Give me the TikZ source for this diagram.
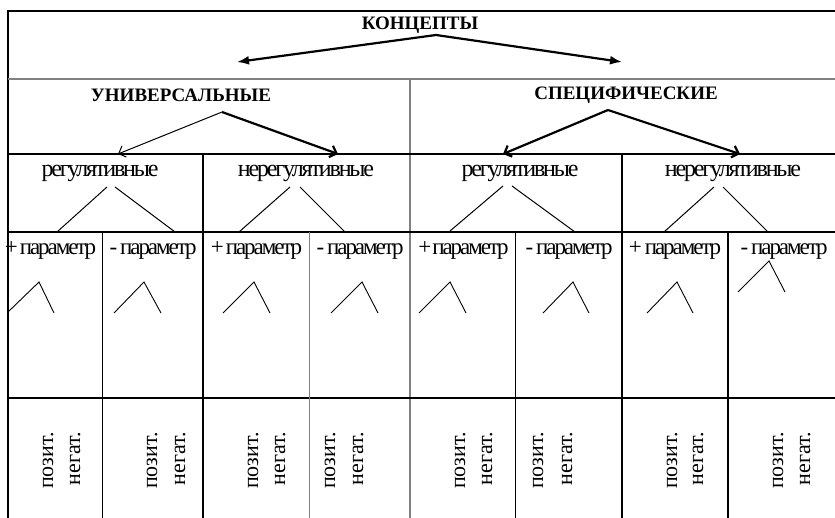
\documentclass[tikz,border=0pt]{standalone}
\usepackage{fontspec}
\setmainfont{Liberation Serif}
\newfontfamily\rowfont[LetterSpace=-9]{Liberation Serif}
\usetikzlibrary{arrows.meta}
\begin{document}
\begin{tikzpicture}[x=1pt,y=-1pt,
  thickline/.style={line width=2.5pt},
  greyline/.style={line width=1.3pt, draw=gray},
  thinline/.style={line width=0.9pt},
  head/.style={font=\bfseries\fontsize{19}{21}\selectfont, inner sep=0pt},
  cell/.style={font=\rowfont\fontsize{24}{26}\selectfont, inner sep=0pt, anchor=base},
  param/.style={font=\rowfont\fontsize{23}{25}\selectfont, inner sep=0pt, anchor=base},
  vert/.style={font=\fontsize{22}{24}\selectfont, inner sep=0pt, rotate=90, anchor=east},
  bigarrow/.style={line width=2.2pt, -{Latex[length=12pt,width=9pt]}},
  openarrow/.style={line width=1pt, -{Straight Barb[length=6pt,width=12pt]}},
  openthick/.style={line width=2.2pt, -{Straight Barb[length=6pt,width=12pt]}},
  branch/.style={line width=1pt},
  wedge/.style={line width=0.9pt}]
\useasboundingbox (0,0) rectangle (835,518);
% grid
\draw[thickline] (8,518) -- (8,11) -- (835,11);
\draw[greyline] (8,79) -- (835,79);
\draw[greyline] (410,79) -- (410,518);
\draw[thickline] (8,154) -- (835,154);
\draw[thickline] (8,232) -- (835,232);
\draw[thickline] (8,398) -- (835,398);
\draw[thickline] (203,154) -- (203,518);
\draw[thickline] (622,154) -- (622,518);
\draw[thickline] (728,232) -- (728,518);
\draw[thinline] (102,232) -- (102,518);
\draw[thinline] (515,232) -- (515,518);
\draw[greyline, line width=1pt] (309,232) -- (309,518);
% title
\node[head] (konc) at (420,25) {КОНЦЕПТЫ};
\coordinate (ks) at (436,35);
\coordinate (kl) at (237,62);
\coordinate (kr) at (622,62);
\draw[bigarrow] (ks) -- (kl);
\draw[bigarrow] (ks) -- (kr);
% second level
\node[head] (univ) at (181,95) {УНИВЕРСАЛЬНЫЕ};
\node[head] (spec) at (626,95) {СПЕЦИФИЧЕСКИЕ};
\coordinate (ua) at (222,112);
\coordinate (ul) at (118,154);
\coordinate (ur) at (338,154);
\draw[openarrow] (ua) -- (ul);
\draw[openthick] (ua) -- (ur);
\coordinate (sa) at (608,110);
\coordinate (sl) at (503,154);
\coordinate (sr) at (740,154);
\draw[openthick] (sa) -- (sl);
\draw[openthick] (sa) -- (sr);
% third level
\node[cell] (r1) at (100,177) {регулятивные};
\node[cell] (n1) at (306,177) {нерегулятивные};
\node[cell] (r2) at (520,177) {регулятивные};
\node[cell] (n2) at (733,177) {нерегулятивные};
\coordinate (r1a) at (107,187); \coordinate (r1b) at (115,187);
\coordinate (n1a) at (290,187); \coordinate (n1b) at (300,187);
\coordinate (r2a) at (503,186); \coordinate (r2b) at (512,186);
\coordinate (n2a) at (714,187); \coordinate (n2b) at (723,187);
\coordinate (r1l) at (57,232); \coordinate (r1r) at (175,232);
\coordinate (n1l) at (239,232); \coordinate (n1r) at (345,232);
\coordinate (r2l) at (450,231); \coordinate (r2r) at (575,232);
\coordinate (n2l) at (664,232); \coordinate (n2r) at (768,232);
\draw[branch] (r1a) -- (r1l); \draw[branch] (r1b) -- (r1r);
\draw[branch] (n1a) -- (n1l); \draw[branch] (n1b) -- (n1r);
\draw[branch] (r2a) -- (r2l); \draw[branch] (r2b) -- (r2r);
\draw[branch] (n2a) -- (n2l); \draw[branch] (n2b) -- (n2r);
% fourth level
\node[param] (p1) at (50.5,255) {+\hspace{2pt}параметр};
\node[param] (m1) at (153,255) {-\hspace{3pt}параметр};
\node[param] (p2) at (256.5,255) {+\hspace{2pt}параметр};
\node[param] (m2) at (360,255) {-\hspace{3pt}параметр};
\node[param] (p3) at (463.5,255) {+\hspace{1pt}параметр};
\node[param] (m3) at (569,255) {-\hspace{3pt}параметр};
\node[param] (p4) at (675,255) {+\hspace{3pt}параметр};
\node[param] (m4) at (784,255) {-\hspace{3pt}параметр};
% wedges
\draw[wedge] (8,312) -- (39,282) -- (54,313);
\draw[wedge] (114,313) -- (144,282) -- (161,313);
\draw[wedge] (223,313) -- (254,282) -- (270,313);
\draw[wedge] (331,313) -- (362,282) -- (378,313);
\draw[wedge] (419,313) -- (450,282) -- (466,313);
\draw[wedge] (543,313) -- (573,282) -- (589,313);
\draw[wedge] (647,313) -- (677,282) -- (693,313);
\draw[wedge] (738,292) -- (769,261) -- (785,292);
% bottom row
\node[vert] (q1) at (48,432) {позит.};  \node[vert] (g1) at (75,432) {негат.};
\node[vert] (q2) at (152,432) {позит.}; \node[vert] (g2) at (180,432) {негат.};
\node[vert] (q3) at (253,432) {позит.}; \node[vert] (g3) at (280,432) {негат.};
\node[vert] (q4) at (330,432) {позит.}; \node[vert] (g4) at (358,432) {негат.};
\node[vert] (q5) at (460,432) {позит.}; \node[vert] (g5) at (487,432) {негат.};
\node[vert] (q6) at (538,432) {позит.}; \node[vert] (g6) at (567,432) {негат.};
\node[vert] (q7) at (672,432) {позит.}; \node[vert] (g7) at (698,432) {негат.};
\node[vert] (q8) at (778,432) {позит.}; \node[vert] (g8) at (805,432) {негат.};
\end{tikzpicture}
\end{document}
